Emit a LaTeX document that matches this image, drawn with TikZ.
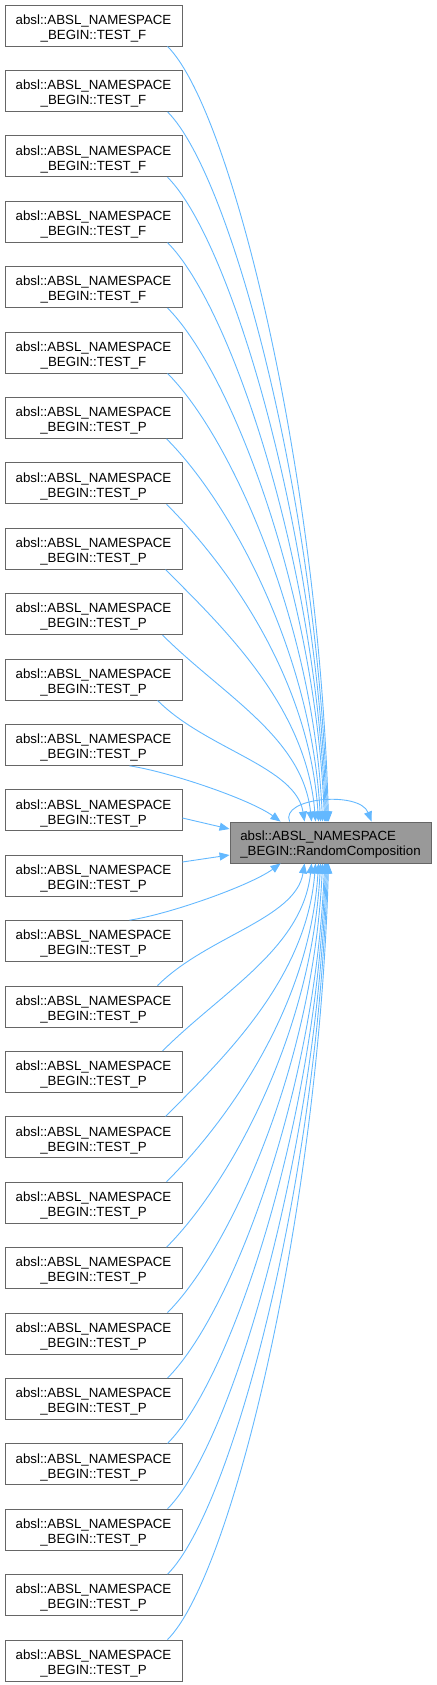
\documentclass[tikz,border=0pt]{standalone}
\usepackage{fontspec}
\setmainfont{Liberation Sans}
\usetikzlibrary{arrows.meta}
\definecolor{edgeblue}{HTML}{63B8FF}
\definecolor{boxborder}{HTML}{666666}
\definecolor{targetfill}{HTML}{999999}
\begin{document}
\begin{tikzpicture}[x=1pt,y=-1pt,
  callerbox/.style={draw=boxborder, fill=white, line width=0.9pt, minimum width=177pt, minimum height=41pt, inner sep=0pt, align=center, font=\fontsize{13.3}{15}\selectfont, text height=27.6pt, text depth=0pt},
  targetbox/.style={draw=boxborder, fill=targetfill, line width=0.9pt, minimum width=201pt, minimum height=41pt, inner sep=0pt, align=left, font=\fontsize{13.3}{15}\selectfont, text height=25pt, text depth=0pt},
  edge/.style={draw=edgeblue, line width=0.9pt, -{Triangle[length=10pt,width=8pt]}}
]
\useasboundingbox (0,0) rectangle (436,1685);
% caller nodes
\foreach \i in {0,...,25}{
  \pgfmathsetmacro{\cy}{25.5+65.4*\i}
  \ifnum\i<6
    \node[callerbox] (n\i) at (93.5,\cy) {absl::ABSL\_NAMESPACE\\\_BEGIN::TEST\_F};
  \else
    \node[callerbox] (n\i) at (93.5,\cy) {absl::ABSL\_NAMESPACE\\\_BEGIN::TEST\_P};
  \fi
}
\node[targetbox] (t) at (330.5,842.5) {absl::ABSL\_NAMESPACE\\\_BEGIN::RandomComposition};
% edges from upper callers to top of target
\foreach \i/\xs/\xe in {0/168/329,1/168/328,2/168/327,3/168/326,4/168/325,5/168/323,6/167/321,7/167/319,8/166/316,9/163/312,10/158/305}{
  \pgfmathsetmacro{\yb}{46+65.4*\i}
  \pgfmathsetmacro{\dx}{\xe-\xs}
  \pgfmathsetmacro{\dy}{822-\yb}
  \pgfmathsetmacro{\k}{0.4*min(\dx,\dy)}
  \pgfmathsetmacro{\cx}{-0.06*\dx}
  \pgfmathsetmacro{\cyy}{-0.45*\dy}
  \pgfmathsetmacro{\sx}{\xs-5}
  \pgfmathsetmacro{\ex}{\xe-230}
  \draw[edge] ([xshift=\sx pt]n\i.south west) .. controls +(\k,\k) and +(\cx,\cyy) .. ([xshift=\ex pt]t.north west);
}
\draw[edge] ([xshift=125pt]n11.south west) .. controls +(40,6) and +(-30,-22) .. ([xshift=51pt]t.north west);
% edges from lower callers to bottom of target
\foreach \j/\xs/\xe in {25/168/329,24/168/328,23/168/327,22/168/326,21/168/325,20/168/323,19/167/321,18/167/319,17/166/316,16/163/312,15/158/305}{
  \pgfmathsetmacro{\yt}{5+65.4*\j}
  \pgfmathsetmacro{\dx}{\xe-\xs}
  \pgfmathsetmacro{\dy}{\yt-863}
  \pgfmathsetmacro{\k}{0.4*min(\dx,\dy)}
  \pgfmathsetmacro{\cx}{-0.06*\dx}
  \pgfmathsetmacro{\cyy}{0.45*\dy}
  \pgfmathsetmacro{\mk}{-\k}
  \pgfmathsetmacro{\sx}{\xs-5}
  \pgfmathsetmacro{\ex}{\xe-230}
  \draw[edge] ([xshift=\sx pt]n\j.north west) .. controls +(\k,\mk) and +(\cx,\cyy) .. ([xshift=\ex pt]t.south west);
}
\draw[edge] ([xshift=125pt]n14.north west) .. controls +(40,-6) and +(-30,22) .. ([xshift=51pt]t.south west);
% side edges
\draw[edge] ([yshift=-7.7pt]n12.east) -- ([yshift=13.5pt]t.west);
\draw[edge] ([yshift=13.7pt]n13.east) -- ([yshift=-12.5pt]t.west);
% self loop
\draw[edge] ([xshift=60pt]t.north west) .. controls +(-10,-24) and +(-12,-31) .. ([xshift=142pt]t.north west);
\end{tikzpicture}
\end{document}
